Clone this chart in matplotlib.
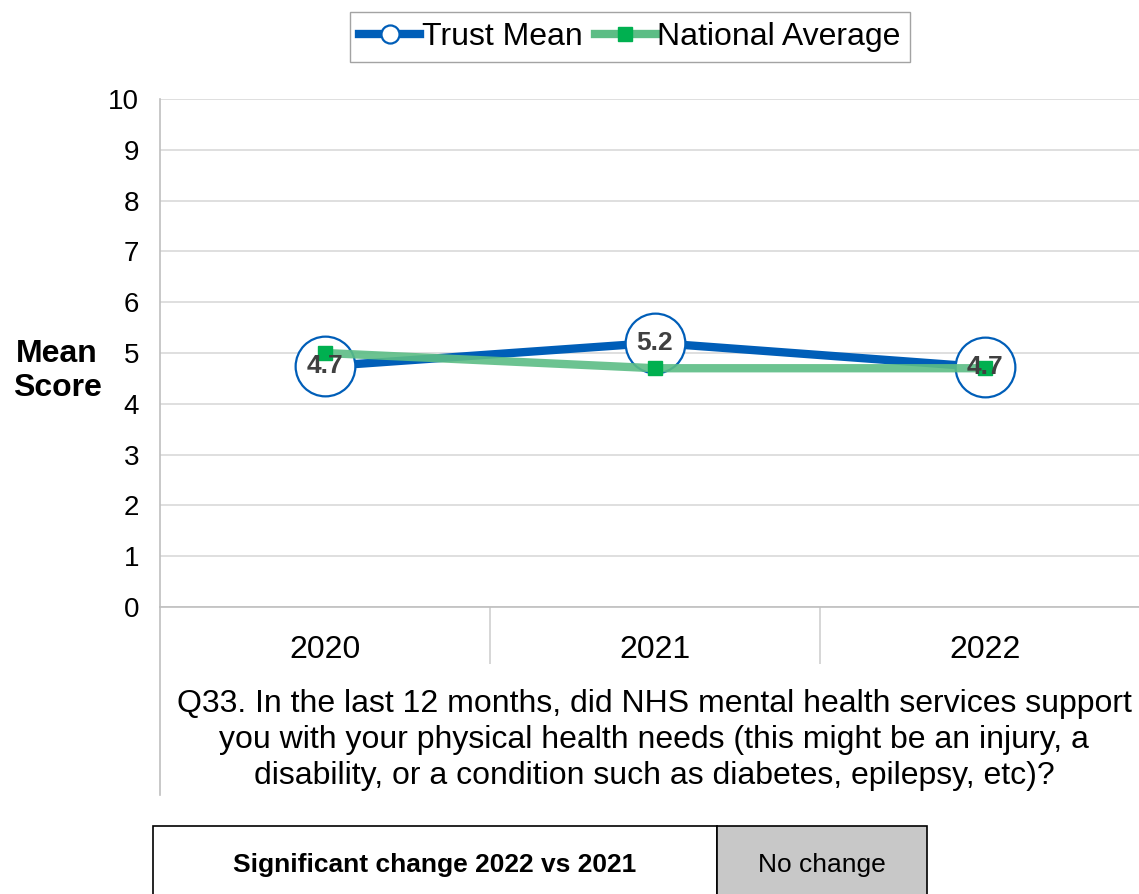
import matplotlib.pyplot as plt
from matplotlib.lines import Line2D
from matplotlib.patches import Rectangle

plt.rcParams['font.family'] = ['Liberation Sans', 'DejaVu Sans']

years = ['2020', '2021', '2022']
trust_mean = [4.74, 5.2, 4.72]
trust_labels = ['4.7', '5.2', '4.7']
national_avg = [5.0, 4.7, 4.7]
question = ('Q33. In the last 12 months, did NHS mental health services support\n'
            'you with your physical health needs (this might be an injury, a\n'
            'disability, or a condition such as diabetes, epilepsy, etc)?')
change_label = 'Significant change 2022 vs 2021'
change_value = 'No change'

W, H = 1139, 894
fig = plt.figure(figsize=(W / 100, H / 100), dpi=100)
ax = fig.add_axes([160 / W, 1 - 607 / H, 990 / W, 508 / H])

x = list(range(len(years)))
blue = '#005EB8'
green_line = '#5CBD85'
green_mark = '#00B050'

ax.plot(x, trust_mean, color=blue, lw=6, zorder=3, solid_capstyle='butt')
ax.plot(x, trust_mean, ls='none', marker='o', ms=43, mfc='white', mec=blue, mew=1.6, zorder=4)
ax.plot(x, national_avg, color=green_line, lw=6, zorder=5, alpha=0.9)
ax.plot(x, national_avg, ls='none', marker='s', ms=10, color=green_mark, zorder=6)
for xi, v, lab in zip(x, trust_mean, trust_labels):
    ax.text(xi, v, lab, ha='center', va='center', fontsize=19, fontweight='bold',
            color='#404040', zorder=7)

ax.set_xlim(-0.5, 2.5)
ax.set_ylim(0, 10)
ax.set_yticks(range(0, 11))
ax.yaxis.grid(True, color='#D9D9D9', lw=1.2)
ax.set_axisbelow(True)
ax.tick_params(axis='y', length=0, labelsize=20, pad=15)
ax.set_xticks(x)
ax.set_xticklabels(years)
ax.tick_params(axis='x', which='major', length=0, labelsize=23, pad=20)
ax.set_xticks([0.5, 1.5], minor=True)
ax.tick_params(axis='x', which='minor', length=41, width=1.2, color='#D0D0D0')
for s in ['top', 'right']:
    ax.spines[s].set_visible(False)
ax.spines['left'].set_color('#BFBFBF')
ax.spines['bottom'].set_color('#BFBFBF')
ax.spines['left'].set_linewidth(1.2)
ax.spines['bottom'].set_linewidth(1.2)

# left axis line continues down past the category area
fig.add_artist(Line2D([160 / W, 160 / W], [1 - 795 / H, 1 - 607 / H], color='#BFBFBF', lw=1.2))

fig.text(57 / W, 1 - 371 / H, 'Mean\nScore', ha='center', va='center', fontsize=23,
         fontweight='bold', linespacing=1.15)

fig.text(654 / W, 1 - 740 / H, question, ha='center', va='center', fontsize=23, linespacing=1.28)

handles = [Line2D([], [], color=blue, lw=6, marker='o', ms=13, mfc='white', mec=blue, mew=1.6),
           Line2D([], [], color=green_line, lw=6, marker='s', ms=10, mfc=green_mark, mec=green_mark)]
fig.legend(handles, ['Trust Mean', 'National Average'], loc='center', bbox_to_anchor=(630 / W, 1 - 37 / H),
           ncol=2, fontsize=23, frameon=True, fancybox=False, edgecolor='#8C8C8C',
           handlelength=1.9, handletextpad=0.05, columnspacing=0.4, borderpad=0.3,
           borderaxespad=0)

# summary table at the bottom
fig.add_artist(Rectangle((153 / W, 1 - 900 / H), (717 - 153) / W, 74 / H, transform=fig.transFigure,
                         facecolor='white', edgecolor='black', lw=1.2))
fig.add_artist(Rectangle((717 / W, 1 - 900 / H), (927 - 717) / W, 74 / H, transform=fig.transFigure,
                         facecolor='#C8C8C8', edgecolor='black', lw=1.2))
fig.text(435 / W, 1 - 865 / H, change_label, ha='center', va='center', fontsize=19, fontweight='bold')
fig.text(822 / W, 1 - 865 / H, change_value, ha='center', va='center', fontsize=19)

fig.savefig('out.png', dpi=100)
